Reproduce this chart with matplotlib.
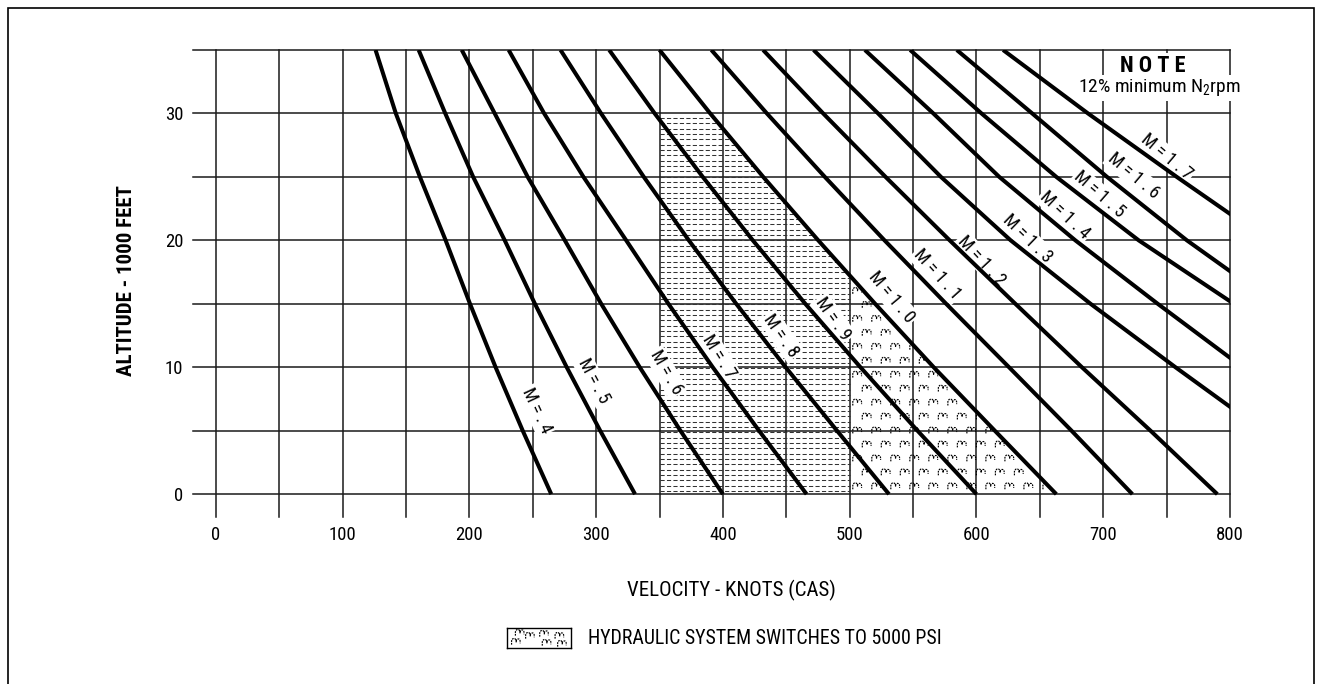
import numpy as np
import matplotlib
matplotlib.use('Agg')
import matplotlib.pyplot as plt
from matplotlib import font_manager
from matplotlib.path import Path
from matplotlib.patches import Rectangle

# fonts: a narrow sans looks closest to the drafting lettering
installed = {f.name for f in font_manager.fontManager.ttflist}
narrow = next((f for f in ['Liberation Sans Narrow', 'DejaVu Sans Condensed',
                           'Roboto Condensed', 'Liberation Sans'] if f in installed),
              'DejaVu Sans')
plt.rcParams['font.family'] = [narrow, 'DejaVu Sans']
plt.rcParams['mathtext.default'] = 'regular'

# data: calibrated airspeed (knots) of each Mach line at altitudes 0..35 (1000 ft)
altitude = [0, 5, 10, 15, 20, 25, 30, 35]
m04 = [264.6, 242.1, 220.7, 200.5, 181.3, 161.0, 142.0, 126.0]
m05 = [330.7, 303.2, 276.8, 251.7, 227.9, 203.0, 181.0, 160.0]
m06 = [400.0, 366.5, 334.4, 304.0, 275.3, 246.0, 220.0, 194.0]
m07 = [466.0, 428.5, 392.0, 357.0, 323.7, 290.0, 259.0, 231.0]
m08 = [531.0, 490.0, 449.5, 410.5, 373.1, 337.6, 303.9, 271.9]
m09 = [600.0, 553.5, 508.5, 465.0, 423.6, 384.1, 346.2, 310.3]
m10 = [663.0, 614.5, 566.3, 520.1, 475.2, 431.8, 390.0, 350.0]
m11 = [723.0, 675.0, 625.7, 576.1, 527.5, 480.4, 434.7, 390.9]
m12 = [790.0, 737.3, 683.2, 630.7, 578.9, 528.3, 479.1, 431.7]
m13 = [895.0, 826.0, 757.0, 690.0, 627.0, 572.0, 522.4, 471.5]
m14 = [955.0, 880.0, 810.0, 743.0, 678.0, 618.0, 566.0, 512.0]
m15 = [1015.0, 945.0, 875.0, 803.0, 728.0, 663.0, 604.0, 547.7]
m16 = [1050.0, 978.0, 906.0, 836.0, 766.0, 703.0, 644.0, 584.5]
m17 = [1140.0, 1060.0, 982.0, 905.0, 830.0, 758.0, 688.0, 621.0]
curves = [m04, m05, m06, m07, m08, m09, m10, m11, m12, m13, m14, m15, m16, m17]
mach_text = ['. 4', '. 5', '. 6', '. 7', '. 8', '. 9', '1 . 0', '1 . 1', '1 . 2',
             '1 . 3', '1 . 4', '1 . 5', '1 . 6', '1 . 7']

shade_left = 350      # knots, start of shaded band
hydraulic_left = 500  # knots, start of 5000 psi region
shade_top = 30        # 1000 ft

# label placement (style)
label_x = [253, 298, 355, 397, 446, 487, 533, 569, 604, 640, 670, 697, 724, 750]
label_y = [6.6, 8.9, 9.6, 10.8, 12.5, 13.8, 15.5, 17.3, 18.4, 20.1, 22.0, 23.6, 25.1, 26.6]
label_rot = [-65, -62, -60, -58, -55, -55, -50, -48, -47, -44, -43, -41, -40, -40]

W, H = 1325, 684
fig = plt.figure(figsize=(W / 100, H / 100), dpi=100)
ax = fig.add_axes([193 / W, 1 - 517 / H, 1037 / W, 467 / H])
ax.set_xlim(-18, 800)
ax.set_ylim(-1.8, 35)
for s in ax.spines.values():
    s.set_visible(False)
ax.set_xticks(range(0, 801, 100))
ax.set_yticks([0, 10, 20, 30])
ax.tick_params(axis='x', length=0, labelsize=13.5, pad=6.5)
ax.tick_params(axis='y', length=0, labelsize=13.5, pad=7)

# grid drawn by hand so the outer lines are not half clipped
for x in range(0, 801, 50):
    ax.axvline(x, color='#1a1a1a', lw=1.1, zorder=1, clip_on=False)
for y in range(0, 36, 5):
    ax.axhline(y, color='#1a1a1a', lw=1.1, zorder=1, clip_on=False)

# shaded region: right of 350 kt, below 30 000 ft, left of the M = 1.0 line
alt_s = [a for a in altitude if a <= shade_top]
region = ax.fill_betweenx(alt_s, shade_left, m10[:len(alt_s)],
                          facecolor='none', edgecolor='none', zorder=2)
clip = region.get_paths()[0]

rows = np.arange(0.25, shade_top, 0.42)
dashes = ax.hlines(rows, shade_left, hydraulic_left, colors='#333333', lw=0.75,
                   linestyles=(0, (4, 2.2)), zorder=2)
dashes.set_clip_path(clip, ax.transData)

MV, LN, C3 = Path.MOVETO, Path.LINETO, Path.CURVE3
squiggle = Path([(-1, -0.6), (-1, 0.2), (-1, 0.8), (-0.45, 0.8), (0.05, 0.8), (0.05, 0.2),
                 (0.05, -0.2), (0.05, 0.2), (0.05, 0.7), (0.5, 0.7), (0.95, 0.7), (0.95, 0.1),
                 (0.95, -0.3)],
                [MV, LN, C3, C3, C3, C3, LN, MV, C3, C3, C3, C3, LN])

gx, gy = [], []
for i, yy in enumerate(np.arange(0.6, 18, 1.1)):
    for xx in np.arange(hydraulic_left + 6 + (7.5 if i % 2 else 0), 680, 15):
        gx.append(xx)
        gy.append(yy)
gx, gy = np.array(gx), np.array(gy)
inside = clip.contains_points(np.column_stack([gx, gy]))
sq = ax.scatter(gx[inside], gy[inside], marker=squiggle, s=42, facecolors='none',
                edgecolors='black', linewidths=0.85, linestyles=(0, (1.5, 0.8)), zorder=2)
sq.set_clip_path(clip, ax.transData)

# Mach lines
for c in curves:
    ax.plot(c, altitude, color='black', lw=2.9, solid_capstyle='butt',
            solid_joinstyle='round', zorder=4)

for txt, lx, ly, rot in zip(mach_text, label_x, label_y, label_rot):
    ax.text(lx, ly, 'M = ' + txt, rotation=rot, rotation_mode='anchor',
            ha='center', va='center', fontsize=13, zorder=3,
            bbox=dict(facecolor='white', edgecolor='none', pad=1.2))

# note box (top right)
fig.text(1153 / W, 1 - 66 / H, 'N O T E', ha='center', va='center', fontsize=16,
         fontweight='bold', zorder=5,
         bbox=dict(facecolor='white', edgecolor='none', pad=1.5))
fig.text(1159 / W, 1 - 88 / H, r'12% minimum N$_2$rpm', ha='center', va='center',
         fontsize=14, zorder=5, bbox=dict(facecolor='white', edgecolor='none', pad=1.5))

# axis titles
fig.text(731 / W, 1 - 590 / H, 'VELOCITY - KNOTS (CAS)', ha='center', va='center',
         fontsize=15)
fig.text(126 / W, 1 - 281 / H, 'ALTITUDE - 1000 FEET', ha='center', va='center',
         rotation=90, fontsize=15, fontweight='bold')

# legend swatch
lax = fig.add_axes([507 / W, 1 - 648 / H, 64 / W, 20 / H])
lax.set_xlim(0, 1)
lax.set_ylim(0, 1)
lax.set_xticks([])
lax.set_yticks([])
for s in lax.spines.values():
    s.set_linewidth(1.0)
lax.scatter([0.14, 0.36, 0.58, 0.82, 0.2, 0.62, 0.86], [0.3, 0.6, 0.7, 0.6, 0.75, 0.25, 0.2],
            marker=squiggle, s=40, facecolors='none', edgecolors='black',
            linewidths=0.85, linestyles=(0, (1.5, 0.8)))
fig.text(588 / W, 1 - 638 / H, 'HYDRAULIC SYSTEM SWITCHES TO 5000 PSI', ha='left',
         va='center', fontsize=14.3)

# outer frame of the page
fig.add_artist(Rectangle((8 / W, -0.05), 1306 / W, 1 - 8 / H + 0.05,
                         transform=fig.transFigure, fill=False, lw=1.2, ec='black'))

fig.savefig('out.png', dpi=100)
